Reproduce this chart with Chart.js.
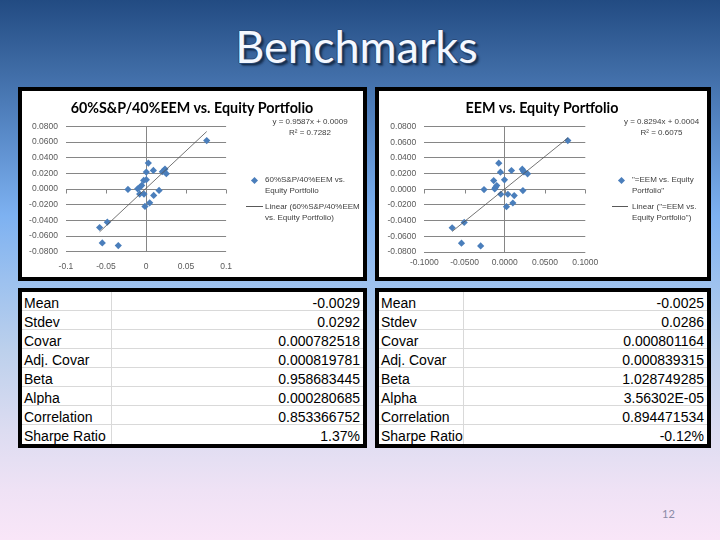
<!DOCTYPE html>
<html><head><meta charset="utf-8">
<script src="https://cdn.jsdelivr.net/npm/chart.js@4.4.0/dist/chart.umd.min.js"></script>
<style>
html,body{margin:0;padding:0;}
body{width:720px;height:540px;position:relative;overflow:hidden;
background:linear-gradient(to bottom,#224b82 0px,#3b67a0 60px,#5788c6 130px,#7db1f1 215px,#9cc1ef 280px,#bcd0ec 350px,#dcdcf1 430px,#efe2f5 490px,#f9e6f8 540px);
font-family:"Liberation Sans",Arial,sans-serif;}
.ptitle{position:absolute;left:0;width:713px;top:19px;text-align:center;font-family:Lato,sans-serif;font-size:45px;line-height:54px;color:#f4f8ff;
text-shadow:-1px 0 0 #2a4a78,1px 0 0 #2a4a78,0 -1px 0 #2a4a78,0 1px 0 #2a4a78,2px 2px 1px #18304f,3px 3px 2px rgba(20,40,70,0.6);}
.box{position:absolute;border:4px solid #000;background:#fff;box-sizing:border-box;}
.box canvas{position:absolute;left:0;top:0;}
.ctitle{position:absolute;font-family:Lato,sans-serif;font-weight:bold;font-size:14.3px;color:#000;white-space:nowrap;transform:translate(-50%,-50%);}
.eq{position:absolute;font-size:8px;line-height:11px;color:#404040;text-align:center;white-space:nowrap;transform:translateX(-50%);}
.lg{position:absolute;font-size:8px;line-height:11px;color:#404040;white-space:nowrap;}
.dia{position:absolute;width:5px;height:5px;background:#4a7ebb;transform:rotate(45deg);}
.lgl{position:absolute;height:1px;background:#595959;}
.row{display:flex;height:19px;box-sizing:border-box;border-bottom:1px solid #d9d9d9;font-size:14px;line-height:16px;color:#000;}
.row:last-child{border-bottom:none;}
.row .l{box-sizing:border-box;border-right:1px solid #d9d9d9;padding:3px 0 0 2px;white-space:nowrap;overflow:hidden;}
.row .r{flex:1;text-align:right;padding:3px 3px 0 0;white-space:nowrap;}
.pn{position:absolute;left:662px;top:507px;font-family:Lato,sans-serif;font-size:11px;color:#8a8aa6;}
</style></head>
<body>
<div class="ptitle">Benchmarks</div>

<div class="box" style="left:18px;top:87px;width:349px;height:194px;"><canvas id="c1" width="341" height="186"></canvas></div>
<div class="box" style="left:375px;top:87px;width:336px;height:194px;"><canvas id="c2" width="328" height="186"></canvas></div>

<div class="box" style="left:18px;top:288px;width:349px;height:160px;"><div id="t1"></div></div>
<div class="box" style="left:375px;top:288px;width:336px;height:160px;"><div id="t2"></div></div>

<div id="over"></div>
<div class="pn">12</div>

<script>
// ---- data ----
const equityReturns = [0.0620, 0.0333, 0.0218, 0.0239, 0.0235, 0.0256, 0.0222, 0.0197, 0.0111, 0.0120, 0.0047, 0.0021, 0.0004, -0.0004, -0.0064, -0.0064, -0.0081, -0.0017, -0.0175, -0.0222, -0.0423, -0.0491, -0.0688, -0.0722];
const blendReturns = [0.0758, 0.0029, 0.0004, 0.0092, 0.0221, 0.0237, 0.0204, 0.0254, -0.0029, 0.0004, -0.0054, -0.0079, -0.0104, -0.0225, -0.0079, -0.0025, 0.0096, 0.0163, 0.0046, -0.0013, -0.0483, -0.0579, -0.0546, -0.0346];
const eemReturns = [0.0783, -0.0075, -0.0054, 0.0083, 0.0229, 0.0217, 0.0238, 0.0283, -0.0138, -0.0004, -0.0100, -0.0117, -0.0125, -0.0258, -0.0050, 0.0038, 0.0117, 0.0225, 0.0100, 0.0021, -0.0504, -0.0654, -0.0538, -0.0300];
const chartTitles = ["60%S&P/40%EEM vs. Equity Portfolio", "EEM vs. Equity Portfolio"];
const seriesNames = ["60%S&P/40%EEM vs. Equity Portfolio", "\"=EEM vs. Equity Portfolio\""];
const legendSeries = [["60%S&P/40%EEM vs.", "Equity Portfolio"], ["\"=EEM vs. Equity", "Portfolio\""]];
const legendTrend = [["Linear (60%S&P/40%EEM", "vs. Equity Portfolio)"], ["Linear (\"=EEM vs.", "Equity Portfolio\")"]];
const trendSlopes = [0.9587, 0.8294];
const trendIntercepts = [0.0009, 0.0004];
const trendR2 = ["0.7282", "0.6075"];
const yTicks = [-0.08, -0.06, -0.04, -0.02, 0, 0.02, 0.04, 0.06, 0.08];
const xTicks = [-0.1, -0.05, 0, 0.05, 0.1];
const xTickLabels1 = ["-0.1", "-0.05", "0", "0.05", "0.1"];
const xTickLabels2 = ["-0.1000", "-0.0500", "0.0000", "0.0500", "0.1000"];
const statLabels = ["Mean", "Stdev", "Covar", "Adj. Covar", "Beta", "Alpha", "Correlation", "Sharpe Ratio"];
const statsBlend = ["-0.0029", "0.0292", "0.000782518", "0.000819781", "0.958683445", "0.000280685", "0.853366752", "1.37%"];
const statsEEM = ["-0.0025", "0.0286", "0.000801164", "0.000839315", "1.028749285", "3.56302E-05", "0.894471534", "-0.12%"];

// ---- tables ----
function fillTable(id, vals, w1) {
  const t = document.getElementById(id);
  statLabels.forEach((lab, i) => {
    const tr = document.createElement('div'); tr.className = 'row';
    const a = document.createElement('div'); a.className = 'l'; a.style.width = w1 + 'px'; a.textContent = lab;
    const b = document.createElement('div'); b.className = 'r'; b.textContent = vals[i];
    tr.appendChild(a); tr.appendChild(b); t.appendChild(tr);
  });
}
fillTable('t1', statsBlend, 90);
fillTable('t2', statsEEM, 85);

// ---- overlays (titles, legends, equations) ----
const over = document.getElementById('over');
function add(cls, html, style) { const d = document.createElement('div'); d.className = cls; d.innerHTML = html; Object.assign(d.style, style); over.appendChild(d); return d; }
function esc(s){return s.replace(/&/g,'&amp;').replace(/</g,'&lt;');}
const ov = [
  {tx:192, ty:107, eqx:310, dia:[254.5,180], lgx:265, lgy1:173.5, linex:[246,263], liney:206, lgy2:200.5},
  {tx:542, ty:107, eqx:661.5, dia:[621,180], lgx:632, lgy1:173.5, linex:[612,628], liney:206, lgy2:200.5}
];
ov.forEach((o, i) => {
  add('ctitle', esc(chartTitles[i]), {left:o.tx+'px', top:o.ty+'px'});
  const sgn = trendIntercepts[i] >= 0 ? '+' : '-';
  add('eq', 'y = ' + trendSlopes[i].toFixed(4) + 'x ' + sgn + ' ' + Math.abs(trendIntercepts[i]).toFixed(4) + '<br>R\u00b2 = ' + trendR2[i], {left:o.eqx+'px', top:'116px'});
  add('dia', '', {left:(o.dia[0]-2.5)+'px', top:(o.dia[1]-2.5)+'px'});
  add('lg', legendSeries[i].map(esc).join('<br>'), {left:o.lgx+'px', top:o.lgy1+'px'});
  add('lgl', '', {left:o.linex[0]+'px', width:(o.linex[1]-o.linex[0])+'px', top:o.liney+'px'});
  add('lg', legendTrend[i].map(esc).join('<br>'), {left:o.lgx+'px', top:o.lgy2+'px'});
});

// ---- charts ----
const axisTicks = {
  id: 'axisTicks',
  beforeDatasetsDraw(chart) {
    const {ctx, scales: {x, y}} = chart;
    const y0 = Math.round(y.getPixelForValue(0)) + 0.5;
    ctx.save(); ctx.strokeStyle = '#868686'; ctx.lineWidth = 1;
    xTicks.forEach(v => { const px = Math.round(x.getPixelForValue(v)) + 0.5; ctx.beginPath(); ctx.moveTo(px, y0); ctx.lineTo(px, y0 + 4); ctx.stroke(); });
    ctx.restore();
  }
};
function makeChart(id, xs, idx, xLabels, pad) {
  const pts = xs.map((v, i) => ({x: v, y: equityReturns[i]}));
  const xmin = Math.min(...xs), xmax = Math.max(...xs);
  const trend = [xmin, xmax].map(v => ({x: v, y: trendSlopes[idx] * v + trendIntercepts[idx]}));
  new Chart(document.getElementById(id), {
    type: 'scatter',
    data: {datasets: [
      {label: seriesNames[idx], data: pts, pointStyle: 'rectRot', pointRadius: 3.6, backgroundColor: '#4a7ebb', borderColor: '#4a7ebb', borderWidth: 0, order: 2},
      {label: 'Linear', data: trend, showLine: true, pointRadius: 0, borderColor: '#505050', borderWidth: 0.8, order: 1}
    ]},
    options: {
      responsive: false, animation: false, devicePixelRatio: 1,
      layout: {padding: {left: 0, right: pad.R, top: pad.T, bottom: 0}},
      plugins: {legend: {display: false}, tooltip: {enabled: false}, title: {display: false}},
      scales: {
        x: {type: 'linear', min: -0.1, max: 0.1,
            afterBuildTicks: s => { s.ticks = xTicks.map(v => ({value: v})); },
            afterFit: s => { s.height = pad.B; },
            ticks: {padding: pad.xp, color: '#595959', font: {family: 'Liberation Sans', size: 8.5}, maxRotation: 0,
                    callback: (v, i) => xLabels[i]},
            grid: {drawTicks: false, color: c => (c.tick && Math.abs(c.tick.value) < 1e-9) ? '#868686' : 'rgba(0,0,0,0)'},
            border: {display: false}},
        y: {type: 'linear', min: -0.08, max: 0.08,
            afterBuildTicks: s => { s.ticks = yTicks.map(v => ({value: v})); },
            afterFit: s => { s.width = pad.L; },
            ticks: {padding: 8, color: '#595959', font: {family: 'Liberation Sans', size: 8.5}, callback: v => v.toFixed(4)},
            grid: {drawTicks: false, color: '#868686'},
            border: {display: false}}
      }
    },
    plugins: [axisTicks]
  });
}
makeChart('c1', blendReturns, 0, xTickLabels1, {L: 43.9, R: 136.9, T: 35.5, B: 25.3, xp: 10});
makeChart('c2', eemReturns, 1, xTickLabels2, {L: 45.3, R: 121.7, T: 35.5, B: 25, xp: 6});
</script>
</body></html>
